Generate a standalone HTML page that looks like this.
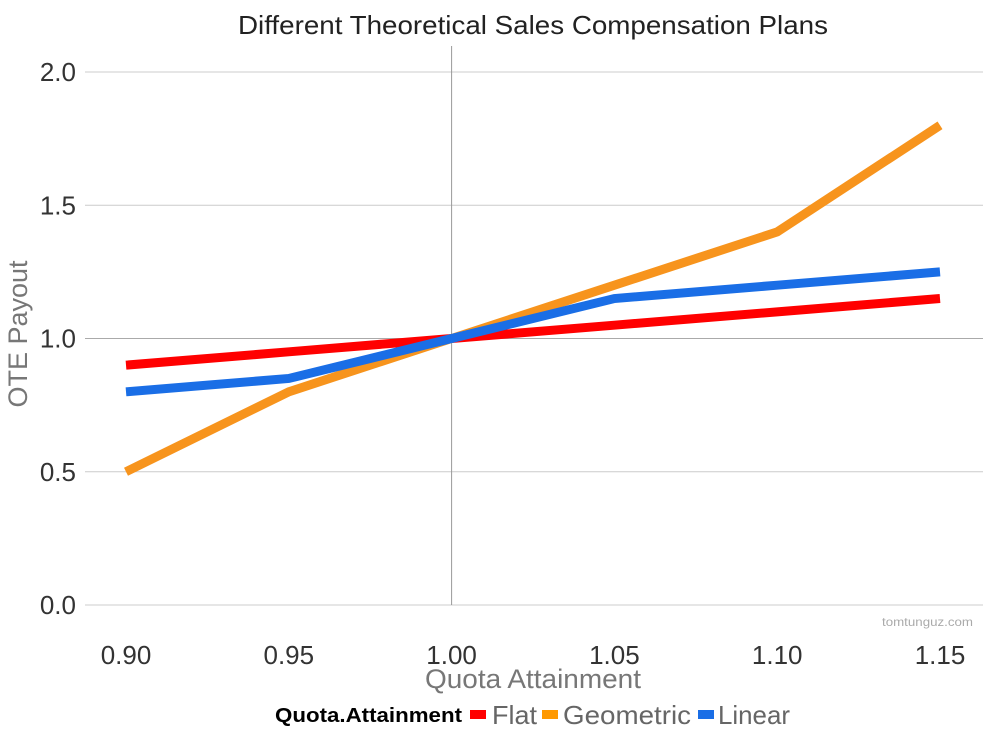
<!DOCTYPE html>
<html><head><meta charset="utf-8"><style>
body{margin:0;background:#fff;width:1000px;height:750px;overflow:hidden}
svg text{font-family:"Liberation Sans",sans-serif}
</style></head><body>
<svg width="1000" height="750">
<text x="238" y="34" font-size="26" fill="#222" textLength="590" lengthAdjust="spacingAndGlyphs">Different Theoretical Sales Compensation Plans</text>
<g id="grid"></g><g id="lines"></g>
<text x="27" y="334" font-size="27" fill="#777" text-anchor="middle" transform="rotate(-90 27 334)">OTE Payout</text>
<text x="425" y="688" font-size="27" fill="#777" textLength="216" lengthAdjust="spacingAndGlyphs">Quota Attainment</text>
<text x="973" y="626" font-size="12" fill="#aaa" text-anchor="end" textLength="91" lengthAdjust="spacingAndGlyphs">tomtunguz.com</text>
<g>
<text x="275" y="722" font-size="20" font-weight="bold" fill="#000" textLength="187" lengthAdjust="spacingAndGlyphs">Quota.Attainment</text>
<rect x="470" y="710" width="16" height="9" fill="#f00"/>
<text x="492" y="724" font-size="26" fill="#666" textLength="45" lengthAdjust="spacingAndGlyphs">Flat</text>
<rect x="542" y="710" width="16" height="9" fill="#f90"/>
<text x="563" y="724" font-size="26" fill="#666" textLength="128" lengthAdjust="spacingAndGlyphs">Geometric</text>
<rect x="698" y="710" width="16" height="9" fill="#1a6ee6"/>
<text x="718" y="724" font-size="26" fill="#666" textLength="72" lengthAdjust="spacingAndGlyphs">Linear</text>
</g>
</svg>
<script>
const categories=[0.90,0.95,1.00,1.05,1.10,1.15];
const xTickLabels=["0.90","0.95","1.00","1.05","1.10","1.15"];
const yTicks=[0,0.5,1.0,1.5,2.0];
const yTickLabels=["0.0","0.5","1.0","1.5","2.0"];
const flat=[0.9,0.95,1.0,1.05,1.1,1.15];
const geometric=[0.5,0.8,1.0,1.2,1.4,1.8];
const linear=[0.8,0.85,1.0,1.15,1.2,1.25];
const NS="http://www.w3.org/2000/svg";
const xs=v=>126+(v-0.9)/0.25*814;
const ys=v=>605-v*266.5;
const grid=document.getElementById('grid');
yTicks.forEach((t,i)=>{
 const l=document.createElementNS(NS,'line');
 l.setAttribute('x1',85);l.setAttribute('x2',983);l.setAttribute('y1',ys(t));l.setAttribute('y2',ys(t));
 l.setAttribute('stroke',t===1?'#aaa':'#ccc');l.setAttribute('stroke-width',1);
 
 
 grid.appendChild(l);
 const tx=document.createElementNS(NS,'text');
 tx.setAttribute('x',76);tx.setAttribute('y',ys(t)+9);tx.setAttribute('text-anchor','end');
 tx.setAttribute('font-size',26);tx.setAttribute('fill','#333');tx.textContent=yTickLabels[i];
 
 
 grid.appendChild(tx);
});
const v=document.createElementNS(NS,'line');
v.setAttribute('x1',xs(1));v.setAttribute('x2',xs(1));v.setAttribute('y1',46);v.setAttribute('y2',605);
v.setAttribute('stroke','#999');v.setAttribute('stroke-width',1);


grid.appendChild(v);
categories.forEach((c,i)=>{
 const tx=document.createElementNS(NS,'text');
 tx.setAttribute('x',xs(c));tx.setAttribute('y',664);tx.setAttribute('text-anchor','middle');
 tx.setAttribute('font-size',26);tx.setAttribute('fill','#333');tx.textContent=xTickLabels[i];
 
 
 grid.appendChild(tx);
});
const lines=document.getElementById('lines');
[[flat,'#f00','flat'],[geometric,'#f7941d','geometric'],[linear,'#1a6ee6','linear']].forEach(([d,col,n])=>{
 const p=document.createElementNS(NS,'polyline');
 p.setAttribute('points',d.map((y,i)=>xs(categories[i])+','+ys(y)).join(' '));
 p.setAttribute('fill','none');p.setAttribute('stroke',col);p.setAttribute('stroke-width',9);
 
 
 lines.appendChild(p);
});
</script>
</body></html>
